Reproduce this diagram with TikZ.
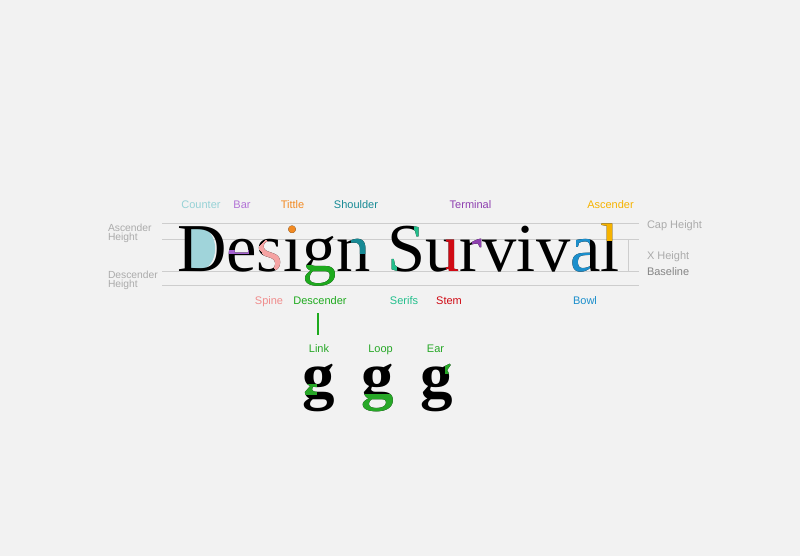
\documentclass[tikz,border=0pt]{standalone}
\usepackage{fontspec}
\setmainfont{Liberation Serif}
\newfontfamily\labfont{Liberation Sans}
\newfontfamily\glyphfont{Liberation Serif}
\usetikzlibrary{calc}
\definecolor{bgcol}{HTML}{F2F2F2}
\definecolor{guidecol}{HTML}{CDCDCD}
\definecolor{graytext}{HTML}{ABABAB}
\definecolor{basetext}{HTML}{858585}
\definecolor{countercol}{HTML}{A0D4DA}
\definecolor{counterlab}{HTML}{96D2D6}
\definecolor{barcol}{HTML}{A460D0}
\definecolor{barlab}{HTML}{B273D6}
\definecolor{tittlecol}{HTML}{F28A22}
\definecolor{shouldercol}{HTML}{178A95}
\definecolor{terminalcol}{HTML}{8E3FB0}
\definecolor{ascendercol}{HTML}{F6B300}
\definecolor{spinecol}{HTML}{F5A3A3}
\definecolor{spinelab}{HTML}{F08C8C}
\definecolor{descol}{HTML}{1EAA1E}
\definecolor{serifcol}{HTML}{22BF8C}
\definecolor{stemcol}{HTML}{D00A14}
\definecolor{bowlcol}{HTML}{1C8FCC}
\definecolor{gcol}{HTML}{27A827}
\begin{document}
\begin{tikzpicture}[x=1pt,y=1pt,
  letter/.style={inner sep=0pt, outer sep=0pt, anchor=base west, font=\glyphfont\fontsize{68.5}{68.5}\selectfont, text=black},
  bigg/.style={inner sep=0pt, outer sep=0pt, anchor=base, font=\glyphfont\bfseries\fontsize{65}{65}\selectfont, text=black},
  lbl/.style={inner sep=0pt, outer sep=0pt, anchor=base, font=\labfont\fontsize{11}{13}\selectfont},
  side/.style={inner sep=0pt, outer sep=0pt, anchor=base west, font=\labfont\fontsize{11}{13}\selectfont},
  sidetwo/.style={inner sep=0pt, outer sep=0pt, anchor=west, align=left, font=\labfont\fontsize{10.3}{9.2}\selectfont, text=graytext},
  guide/.style={draw=guidecol, line width=0.8pt},
  descline/.style={draw=descol, line width=1.2pt}]
\fill[bgcol] (0,0) rectangle (800,556);
\useasboundingbox (0,0) rectangle (800,556);
% guide lines
\draw[guide] (162,332.7) -- (639,332.7);
\draw[guide] (162,316.5) -- (639,316.5);
\draw[guide] (162,284.5) -- (639,284.5);
\draw[guide] (162,270.5) -- (639,270.5);
\draw[guide] (628,316.5) -- (628,284.5);
% counter fill
\coordinate (Dorig) at (177,284.5);
\fill[countercol] ($(Dorig)+(13,1.5)$) -- ++(0,42.8) -- ++(9,0) arc[start angle=90, end angle=-90, x radius=16.2, y radius=21.4] -- cycle;
% main word
\node[letter] (lD) at (Dorig) {D};
\node[letter] (le) at (lD.base east) {e};
\node[letter] (ls) at (le.base east) {s};
\node[letter] (li) at (ls.base east) {i};
\node[letter] (lg) at (li.base east) {g};
\node[letter] (ln) at (lg.base east) {n};
\node[letter] (lS) at ([xshift=16.5pt]ln.base east) {S};
\node[letter] (lu) at (lS.base east) {u};
\node[letter] (lr) at (lu.base east) {r};
\node[letter] (lv) at (lr.base east) {v};
\node[letter] (lii) at (lv.base east) {i};
\node[letter] (lvv) at (lii.base east) {v};
\node[letter] (la) at (lvv.base east) {a};
\node[letter] (ll) at (la.base east) {l};
% coloured parts
\begin{scope}[shift={(le.base west)}]
  \clip (0,17.5) rectangle (22,21);
  \node[letter, text=barcol] (leC) at (0,0) {e};
\end{scope}
\begin{scope}[shift={(ls.base west)}]
  \clip (1,24) -- (9,32) -- (27,9) -- (19,1) -- cycle;
  \node[letter, text=spinecol] (lsC) at (0,0) {s};
\end{scope}
\begin{scope}[shift={(li.base west)}]
  \clip (-1,34) rectangle (20,50);
  \node[letter, text=tittlecol] (liC) at (0,0) {i};
\end{scope}
\begin{scope}[shift={(lg.base west)}]
  \clip (-2,-20) rectangle (36,6);
  \node[letter, text=descol] (lgC) at (0,0) {g};
\end{scope}
\begin{scope}[shift={(ln.base west)}]
  \clip (15,18) rectangle (36,40);
  \node[letter, text=shouldercol] (lnC) at (0,0) {n};
\end{scope}
\begin{scope}[shift={(lS.base west)}]
  \clip (26.5,34) rectangle (40,50) (0,-2) rectangle (9,13.5);
  \node[letter, text=serifcol] (lSC) at (0,0) {S};
\end{scope}
\begin{scope}[shift={(lu.base west)}]
  \clip (21,-2) rectangle (36,34);
  \node[letter, text=stemcol] (luC) at (0,0) {u};
\end{scope}
\begin{scope}[shift={(lr.base west)}]
  \clip (13,22) rectangle (24,34);
  \node[letter, text=terminalcol] (lrC) at (0,0) {r};
\end{scope}
\begin{scope}[shift={(la.base west)}]
  \clip (-2,-2) rectangle (19.5,34);
  \node[letter, text=bowlcol] (laC) at (0,0) {a};
\end{scope}
\begin{scope}[shift={(ll.base west)}]
  \clip (-1,31) rectangle (20,50);
  \node[letter, text=ascendercol] (llC) at (0,0) {l};
\end{scope}
% top labels
\node[lbl, text=counterlab] (tCounter) at (201,347.7) {Counter};
\node[lbl, text=barlab] (tBar) at (242,347.7) {Bar};
\node[lbl, text=tittlecol] (tTittle) at (292.5,347.7) {Tittle};
\node[lbl, text=shouldercol] (tShoulder) at (356,347.7) {Shoulder};
\node[lbl, text=terminalcol] (tTerminal) at (470.5,347.7) {Terminal};
\node[lbl, text=ascendercol] (tAscender) at (610.5,347.7) {Ascender};
% bottom labels
\node[lbl, text=spinelab] (tSpine) at (269,251) {Spine};
\node[lbl, text=descol] (tDescender) at (320,251) {Descender};
\node[lbl, text=serifcol] (tSerifs) at (404,251) {Serifs};
\node[lbl, text=stemcol] (tStem) at (449,251) {Stem};
\node[lbl, text=bowlcol] (tBowl) at (585,251) {Bowl};
% side labels
\node[sidetwo] (tAscH) at (108,322.8) {Ascender\\Height};
\node[sidetwo] (tDesH) at (108,275.8) {Descender\\Height};
\node[side, text=graytext] (tCap) at (647,327.7) {Cap Height};
\node[side, text=graytext] (tXh) at (647,296) {X Height};
\node[side, text=basetext] (tBase) at (647,280.3) {Baseline};
% g anatomy
\node[lbl, text=gcol] (tLink) at (319,203) {Link};
\node[lbl, text=gcol] (tLoop) at (380.5,203) {Loop};
\node[lbl, text=gcol] (tEar) at (435.5,203) {Ear};
\draw[descline] ($(tDescender.south)+(-2,-8)$) -- ($(tDescender.south |- tLink.north)+(-2,10)$);
\node[bigg] (g1) at (319,158) {g};
\node[bigg] (g2) at (378,158) {g};
\node[bigg] (g3) at (437,158) {g};
\begin{scope}[shift={(g1.base)}]
  \clip (-18,3) rectangle (-3,13);
  \node[bigg, text=gcol] (g1C) at (0,0) {g};
\end{scope}
\begin{scope}[shift={(g2.base)}]
  \clip (-18,-20) rectangle (18,3);
  \node[bigg, text=gcol] (g2C) at (0,0) {g};
\end{scope}
\begin{scope}[shift={(g3.base)}]
  \clip (8,24) rectangle (20,40);
  \node[bigg, text=gcol] (g3C) at (0,0) {g};
\end{scope}
\end{tikzpicture}
\end{document}
